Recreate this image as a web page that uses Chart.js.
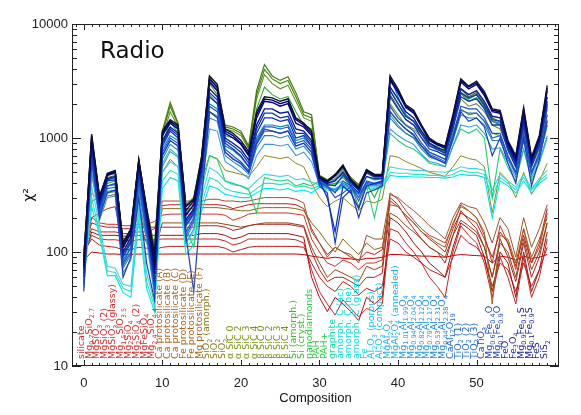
<!DOCTYPE html>
<html><head><meta charset="utf-8">
<script src="https://cdn.jsdelivr.net/npm/chart.js"></script>
<style>html,body{margin:0;padding:0;background:#fff;}#wrap{width:581px;height:415px;}</style>
</head><body><div id="wrap"><canvas id="c" width="581" height="415"></canvas></div>
<script>
// ---------- DATA ----------
const compositions = [
"silicate","Mg_{0.7}SiO_{2.7}","MgSiO_{3}","MgSiO_{3} (2)","MgSiO_{3} (glassy)","Mg_{1.5}SiO_{3.5}","Mg_{2}SiO_{4}","Mg_{2}SiO_{4} (2)","MgFeSiO_{4}","Mg_{2.4}SiO_{4.4}",
"Ca protosilicate (A)","Ca protosilicate (B)","Ca protosilicate (C)","Fe protosilicate (D)","Fe protosilicate (E)","Mg protosilicate (F)","SiO_{2} (amorph.)","SiO_{2}","SiO_{2}","α SiC 0",
"α SiC 2","α SiC 3","α SiC 4","β SiC 0","β SiC 2","β SiC 3","β SiC 4","Si (amorph.)","Si (cryst.)","nanodiamonds",
"PAH","PAH+","graphite","amorph. C (ac)","amorph. C (be)","amorph. C (glass)","Fe","Al_{2}O_{3} (porous)","Al_{2}O_{3} (compact)","MgAl_{2}O_{4}",
"MgAl_{2}O_{4} (annealed)","Mg_{1.01}Al_{1.99}O_{4}","Mg_{0.94}Al_{2.04}O_{4}","Mg_{0.82}Al_{2.12}O_{4}","Mg_{0.79}Al_{2.17}O_{4}","Mg_{0.53}Al_{2.31}O_{4}","Mg_{0.44}Al_{2.38}O_{4}","CaAl_{12}O_{19}","TiO_{2} (1)","TiO_{2} (2)",
"TiO_{2} (3)","CaTiO_{3}","Mg_{0.6}Fe_{0.4}O","Mg_{0.1}Fe_{0.9}O","FeO","Fe_{3}O_{4}","Mg_{0.9}Fe_{0.1}S","Mg_{0.1}Fe_{0.9}S","FeS","SiS_{2}"
];
const xTicks = [0,10,20,30,40,50];
const yTicks = [10,100,1000,10000];

const R1 = [85,100,98,96,96,95,95,96,96,95, 96,96,96,96,96,96,96,96,96,96, 96,96,96,96,96,96,96,96,95,92, 90,88,90,88,87,85,88,88,90,95, 95,94,93,92,92,91,90,93,95,94, 93,92,80,92,90,85,92,88,90,95];
const R2 = [100,130,115,112,110,105,105,110,108,105, 110,112,112,112,112,112,112,112,108,100, 105,110,112,112,112,112,112,112,110,80, 60,50,45,55,50,42,48,45,50,130, 120,100,90,80,70,65,60,90,140,120, 110,90,50,80,70,45,80,50,70,110];
const R3 = [95,140,130,128,128,125,125,128,128,128, 130,130,130,130,130,130,130,130,125,115, 120,130,130,130,130,130,130,128,120,70, 45,35,28,38,32,27,32,30,35,160, 150,120,100,80,60,50,40,100,170,140, 120,80,40,90,60,35,90,40,60,130];
const R6 = [90,150,140,140,140,138,138,140,140,140, 140,140,140,140,140,145,145,145,140,130, 135,145,145,145,145,145,145,140,135,60, 40,30,40,35,30,25,40,35,40,200, 180,150,120,100,80,70,60,110,180,160, 140,90,45,100,80,40,100,45,70,150];
const R4 = [100,180,170,165,165,160,160,165,165,165, 165,165,165,165,165,170,170,170,165,155, 160,170,175,175,175,175,175,170,165,100, 70,55,60,60,55,50,60,60,65,300, 260,200,160,130,110,100,80,140,230,190, 160,110,60,130,90,55,120,60,90,180];
const R5 = [110,200,180,175,175,170,170,175,175,185, 210,215,215,215,215,215,215,215,210,190, 200,215,220,220,220,220,220,215,210,130, 100,80,75,85,80,70,80,80,85,330, 290,230,190,160,140,130,120,170,260,230, 200,140,80,170,120,70,160,80,110,220];
const R7 = [105,160,150,150,150,145,145,150,150,160, 255,260,260,260,260,260,260,260,255,240, 250,260,265,265,265,265,265,260,240,160, 120,95,110,100,90,85,100,95,105,280, 250,210,180,150,130,115,100,160,220,200, 180,130,90,150,120,75,140,80,120,240];
const BR2 = [90,200,220,240,250,110,120,180,120,100, 180,180,180,180,180,180,180,180,175,170, 165,170,175,180,180,180,180,175,170,110, 80,60,70,65,60,55,75,70,75,220, 200,170,150,130,110,100,90,140,190,170, 150,110,60,120,100,60,130,70,100,180];
const BR1 = [100,280,300,310,320,120,130,220,140,110, 280,280,280,280,280,280,290,290,280,280, 275,280,290,300,300,300,300,290,270,150, 120,90,110,100,95,80,140,130,130,320, 300,260,230,200,170,150,130,200,270,250, 240,180,120,200,160,90,200,110,160,260];
const O1 = [95,330,280,330,340,130,140,250,150,110, 240,240,240,240,240,245,245,245,240,235, 230,230,240,245,245,245,245,240,230,180, 150,120,100,130,110,95,120,105,110,260, 250,210,180,150,135,120,110,180,250,230, 200,150,35,140,130,80,160,90,130,200];
const O2 = [90,450,260,380,390,120,140,400,190,100, 500,650,560,200,230,420,700,660,520,500, 480,460,560,700,680,660,680,600,560,400, 300,250,280,300,260,230,280,270,290,700, 680,620,580,540,500,480,460,560,700,660, 640,560,220,500,420,300,500,320,420,600];
const C2 = [55,250,140,62,62,44,40,190,48,30, 360,450,420,95,115,230,380,360,320,310, 300,300,330,360,360,350,360,340,350,330, 370,350,340,370,340,320,360,350,370,470, 460,460,455,455,450,450,445,455,480,470, 470,450,200,420,380,330,420,330,400,450];
const C1 = [60,300,150,68,66,48,45,220,55,33, 420,520,480,110,130,260,450,420,360,340, 330,320,360,400,400,390,400,370,380,360, 380,360,350,380,350,330,370,360,380,500, 490,490,480,480,470,470,460,480,520,500, 500,480,300,450,400,350,450,350,420,480];
const C3 = [65,380,170,75,72,52,50,260,65,36, 500,620,560,120,150,300,550,500,420,390, 380,360,420,480,470,460,470,430,440,410, 390,370,360,390,360,340,380,370,390,560, 540,530,520,520,510,505,500,520,560,540, 540,520,350,480,420,370,480,360,440,520];
const SG1 = [70,500,220,330,340,80,100,360,160,60, 600,800,700,160,110,350,700,650,420,400, 380,350,220,450,430,420,430,380,400,380, 420,380,390,420,350,330,380,200,400,1100, 950,850,800,700,600,580,560,850,1200,1100, 1200,1000,300,800,550,420,800,420,600,1000];
const G3 = [80,650,250,400,420,100,130,480,200,80, 850,1400,1100,220,260,550,2400,2000,1050,1000, 900,700,1800,2800,2400,2200,2300,1700,1300,1200, 430,390,400,450,380,250,400,300,420,1600, 1300,1100,1000,850,750,700,650,1100,1800,1600, 1650,1400,1100,1050,700,500,1000,500,700,1300];
const G2 = [90,800,280,450,470,115,150,580,230,100, 1000,1700,1250,250,290,650,3000,2400,1200,1150, 1050,800,2200,3600,3000,2700,2900,2100,1500,1400, 460,420,440,520,430,380,490,450,450,2000, 1600,1300,1200,1000,850,800,720,1250,2200,1900, 2000,1700,1300,1200,800,550,1200,560,800,1600];
const LB2 = [48,500,190,300,310,66,85,320,125,42, 560,760,680,120,160,350,1200,1150,620,560, 500,440,700,880,880,850,880,700,750,620, 390,360,340,390,360,320,390,380,390,1200, 1050,950,880,720,620,600,560,850,1300,1250, 1300,1100,800,820,600,450,800,450,620,1050];
const LB1 = [50,600,210,340,350,72,95,370,140,45, 650,880,780,130,180,400,1500,1400,700,620, 560,480,820,1050,1050,1000,1050,800,850,700, 400,370,350,400,370,330,400,390,400,1500, 1250,1100,1000,800,680,640,600,950,1600,1500, 1500,1300,950,950,650,480,950,480,680,1300];
const B5 = [52,650,220,360,370,76,100,400,150,48, 700,950,850,140,190,420,1700,1550,750,660, 590,500,880,1150,1150,1100,1150,850,900,750, 405,375,300,330,375,280,410,395,405,1700, 1400,1200,1080,850,720,670,620,1000,1750,1650, 1650,1400,1000,1050,680,490,1050,490,720,1450];
const T1 = [70,750,240,380,390,85,110,420,170,60, 800,1050,950,170,210,480,2000,1800,850,780, 680,560,1000,1300,1300,1250,1300,950,1000,850, 430,400,430,480,400,350,460,430,440,3500, 2300,1600,1400,1100,870,800,760,1300,2500,2200, 2400,1900,1400,1350,800,580,1400,580,900,2000];
const B2 = [55,700,230,380,400,80,110,430,160,50, 750,1000,900,150,200,450,1900,1700,800,700, 620,520,950,1250,1250,1200,1250,900,950,800, 410,380,330,420,380,300,420,400,410,1900, 1500,1300,1150,900,750,700,650,1050,1900,1800, 1800,1500,1100,1100,700,500,1100,500,750,1600];
const B3 = [45,650,200,330,350,60,90,300,80,38, 700,950,850,140,45,300,1700,1500,750,650, 600,500,900,1200,1150,1100,1150,850,900,750, 380,330,120,300,350,200,330,350,380,1700, 1400,1200,1050,850,700,650,600,1000,1700,1400, 1500,1250,700,1000,600,400,1000,380,650,1400];
const G4 = [92,950,300,480,500,125,160,640,245,105, 1100,1900,1320,250,290,680,3200,2600,1250,1200, 1100,820,2400,4000,3300,3000,3200,2300,1600,1500, 465,425,460,540,440,385,505,460,460,2400, 1850,1450,1300,1080,900,840,760,1350,2450,2100, 2250,1850,1400,1300,850,580,1300,580,850,1800];
const G1 = [95,900,290,470,490,120,160,620,240,110, 1150,2050,1350,260,300,700,3400,2700,1300,1250, 1150,850,2600,4400,3500,3200,3450,2500,1700,1600, 470,430,470,560,450,390,520,470,470,2600, 2000,1550,1400,1150,950,880,800,1450,2700,2300, 2500,2000,1500,1400,900,600,1400,600,900,2000];
const B1 = [60,800,250,420,430,90,120,500,180,55, 850,1150,1000,170,220,500,2300,2000,900,800, 700,560,1100,1500,1500,1400,1450,1000,1050,850, 420,300,150,380,330,240,380,400,420,2300, 1800,1450,1300,1000,800,760,700,1200,2300,2100, 2200,1800,1300,1300,780,560,1300,560,850,1900];
const B4 = [65,850,260,430,450,95,125,530,190,60, 900,1200,1050,180,230,530,2500,2150,950,850, 750,600,1200,1650,1650,1500,1550,1100,1100,900, 430,390,380,470,390,330,460,440,440,2600, 2000,1550,1400,1080,850,790,740,1280,2500,2250, 2400,1950,1450,1400,820,600,1400,590,900,2100];
const N3 = [70,900,270,440,460,100,135,560,200,65, 950,1250,1100,190,240,560,2700,2300,1000,900, 800,640,1300,1800,1800,1650,1700,1200,1150,950, 440,400,420,500,410,350,500,460,460,2800, 2200,1700,1500,1150,900,820,780,1350,2700,2400, 2600,2100,1550,1500,850,620,1500,620,950,2300];
const N2 = [75,1000,290,470,500,110,145,620,220,75, 1050,1350,1200,210,260,620,3100,2600,1100,1000, 880,700,1500,2100,2050,1900,2000,1350,1250,1050, 450,410,470,560,420,360,520,470,470,3200, 2500,1850,1650,1250,950,870,820,1500,3100,2700, 2950,2350,1700,1650,900,650,1700,650,1000,2600];
const N4 = [85,1050,310,480,510,120,160,640,240,95, 1100,1400,1250,250,290,650,3300,2800,1150,1050, 900,720,1600,2200,2150,2000,2100,1450,1300,1100, 455,415,475,570,425,365,525,475,475,3300, 2600,1900,1700,1280,980,890,840,1550,3200,2800, 3050,2450,1750,1700,920,680,1800,660,1020,2750];
const N1 = [80,1080,300,490,520,115,150,650,230,85, 1150,1450,1300,230,280,680,3500,2950,1200,1100, 950,760,1700,2300,2250,2100,2200,1500,1350,1150, 460,420,480,580,430,370,530,480,480,3500, 2700,1950,1750,1300,1000,900,850,1600,3300,2850, 3150,2550,1800,1750,950,700,1850,680,1050,2900];

// ---------- STYLE ----------
const series = [
 [R1,'#c00000',1],[R2,'#b81c1c',1],[R3,'#cc2222',1],[R6,'#a01010',1],[R4,'#b22222',1],[R5,'#d03030',1],[R7,'#c02018',1],
 [BR2,'#8b4513',1],[BR1,'#a0522d',1],[O1,'#8b6914',1],[O2,'#8a8a20',1],
 [C2,'#00e5ee',1.1],[C1,'#30e0c0',1.1],[C3,'#40d0e8',1.1],[SG1,'#20d070',1.1],
 [G3,'#33aa33',1.1],[G2,'#6b8e23',1.1],[LB2,'#3a9ad8',1.1],[LB1,'#1e7fd0',1.1],[B5,'#3060c8',1.2],[T1,'#0090b0',1.2],
 [B2,'#2050d0',1.2],[B3,'#2040b0',1.2],[G4,'#3a8a1a',1.2],[G1,'#4a7a10',1.2],[B1,'#1030c0',1.3],[B4,'#0b3aa8',1.3],
 [N3,'#0a1a9a',1.4],[N2,'#00008b',1.4],[N4,'#000070',1.4],[N1,'#101030',1.4]
];
const labelColorStops = [[0,'#d42a2a'],[10,'#a8641e'],[16,'#8c7a14'],[19,'#7a9414'],[27,'#3cb82c'],[29,'#28cc44'],[32,'#14dca8'],[33,'#10dcdc'],[37,'#10c4ec'],[39,'#20b0ee'],[41,'#2098e4'],[45,'#2080dc'],[47,'#1f68cc'],[51,'#2048bc'],[54,'#1c30a8'],[56,'#1a22a0']];
function labelColor(i){let c=labelColorStops[0][1];for(const s of labelColorStops){if(i>=s[0])c=s[1];}return c;}

const datasets = series.map((s,k)=>({
  label:'model '+(k+1),
  data:s[0].map((v,i)=>({x:i,y:v})),
  borderColor:s[1], borderWidth:s[2], pointRadius:0, fill:false, tension:0
})).reverse();

function drawLabel(ctx,str,x,y,color){
  ctx.save(); ctx.translate(x,y); ctx.rotate(-Math.PI/2);
  ctx.fillStyle=color; ctx.textBaseline='alphabetic'; ctx.textAlign='left';
  let cx=0;
  for(const p of str.split(/(_\{[^}]*\})/)){
    if(!p) continue;
    if(p.startsWith('_{')){const t=p.slice(2,-1);ctx.font='6.5px "DejaVu Sans"';ctx.fillText(t,cx,2.5);cx+=ctx.measureText(t).width;}
    else{ctx.font='9.5px "DejaVu Sans"';ctx.fillText(p,cx,0);cx+=ctx.measureText(p).width;}
  }
  ctx.restore();
}

const frame = {
  id:'frame',
  afterDraw(chart){
    const {ctx,chartArea:a,scales:{x,y}} = chart;
    ctx.save();
    ctx.strokeStyle='#222'; ctx.lineWidth=1;
    ctx.strokeRect(a.left+0.5,a.top+0.5,a.right-a.left-1,a.bottom-a.top-1);
    ctx.beginPath();
    for(const d of yTicks){
      for(let m=1;m<=9;m++){
        const v=d*m; if(v>y.max) break;
        const py=Math.round(y.getPixelForValue(v))+0.5;
        const L=(m===1)?9:5;
        ctx.moveTo(a.left,py);ctx.lineTo(a.left+L,py);
        ctx.moveTo(a.right,py);ctx.lineTo(a.right-L,py);
      }
    }
    for(let i=Math.ceil(x.min);i<=Math.floor(x.max);i++){
      const px=Math.round(x.getPixelForValue(i))+0.5;
      const L=xTicks.includes(i)?6:3;
      ctx.moveTo(px,a.bottom);ctx.lineTo(px,a.bottom-L);
      ctx.moveTo(px,a.top);ctx.lineTo(px,a.top+L);
    }
    ctx.stroke();
    compositions.forEach((c,i)=>{drawLabel(ctx,c,x.getPixelForValue(i),a.bottom-7,labelColor(i));});
    ctx.fillStyle='#111';
    ctx.font='23px "DejaVu Sans"'; ctx.textAlign='left'; ctx.textBaseline='alphabetic';
    ctx.fillText('Radio',a.left+28,a.top+34);
    ctx.font='13px "Liberation Sans"'; ctx.textAlign='center';
    ctx.fillText('Composition',(a.left+a.right)/2,402);
    ctx.save(); ctx.translate(33,(a.top+a.bottom)/2); ctx.rotate(-Math.PI/2);
    ctx.font='14px "DejaVu Sans"'; ctx.textAlign='center'; ctx.fillText('χ²',0,0);
    ctx.restore();
    ctx.restore();
  }
};

new Chart(document.getElementById('c'),{
  type:'line',
  data:{datasets},
  options:{
    responsive:false, devicePixelRatio:1, animation:false,
    layout:{padding:{top:24,right:22,left:0,bottom:0}},
    plugins:{legend:{display:false},tooltip:{enabled:false}},
    scales:{
      x:{type:'linear',min:-1.5,max:60.5,
        afterBuildTicks:s=>{s.ticks=xTicks.map(v=>({value:v}));},
        afterFit:s=>{s.height=49;},
        ticks:{padding:10,font:{family:'Liberation Sans',size:13},color:'#222',maxRotation:0,autoSkip:false,callback:v=>String(v)},
        grid:{display:false,drawTicks:false},border:{display:false}},
      y:{type:'logarithmic',min:10,max:10000,
        afterBuildTicks:s=>{s.ticks=yTicks.map(v=>({value:v}));},
        afterFit:s=>{s.width=72;},
        ticks:{padding:4,font:{family:'Liberation Sans',size:13},color:'#222',autoSkip:false,callback:v=>String(v)},
        grid:{display:false,drawTicks:false},border:{display:false}}
    }
  },
  plugins:[frame]
});
</script></body></html>
